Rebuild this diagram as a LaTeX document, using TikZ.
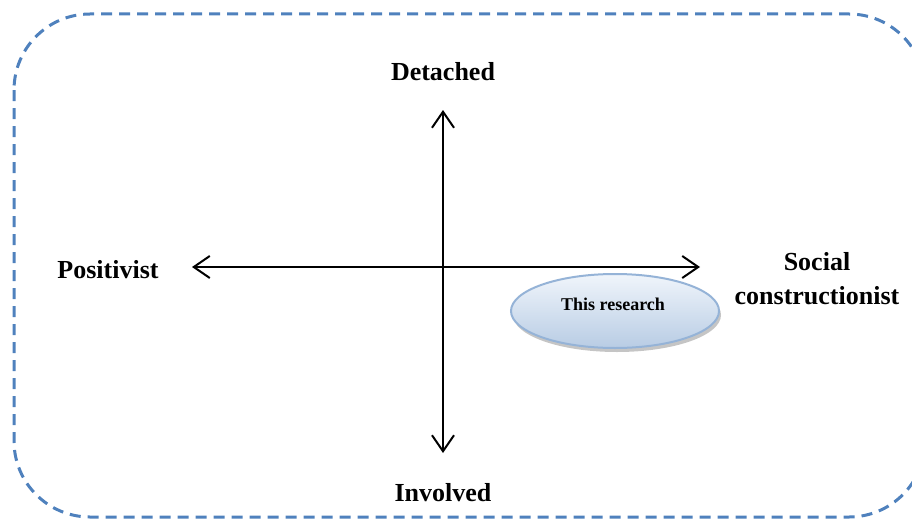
\documentclass[tikz,border=0pt]{standalone}
\usepackage{fontspec}
\setmainfont{Liberation Serif}
\usetikzlibrary{arrows.meta,shadows,shapes.geometric}

\definecolor{frameblue}{RGB}{79,129,189}
\definecolor{ovalline}{RGB}{149,179,215}
\definecolor{ovaltop}{RGB}{240,245,251}
\definecolor{ovalbottom}{RGB}{184,204,228}

\tikzset{
  barb/.tip = {Straight Barb[length = 16pt, width = 22pt, line width = 2pt]},
  frame/.style = {draw = frameblue, line width = 3pt, dash pattern = on 11pt off 7pt,
    rounded corners = 76pt},
  axis/.style = {line width = 2pt, barb-barb},
  pole/.style = {font = \fontsize{26}{34}\selectfont\bfseries, align = center},
  oval/.style = {ellipse, draw = ovalline, line width = 2pt,
    top color = ovaltop, bottom color = ovalbottom,
    minimum width = 208pt, minimum height = 74pt, inner sep = 0pt,
    drop shadow = {shadow xshift = 2pt, shadow yshift = -4pt, fill = black!45}}
}

\begin{document}
\begin{tikzpicture}[x = 1pt, y = -1pt]
  \useasboundingbox (0, 0) rectangle (912, 519);

  % dashed frame, cut at the page edge
  \begin{scope}
    \clip (0, 0) rectangle (912, 519);
    \draw[frame] (14, 14) rectangle (925, 517);
  \end{scope}

  % axes
  \coordinate (west) at (192, 267);
  \coordinate (east) at (700, 267);
  \coordinate (north) at (443, 110);
  \coordinate (south) at (443, 453);

  \draw[axis] (west) -- (east);
  \draw[axis] (south) -- (north);

  % pole labels
  \node[pole] (detached) at (443, 72) {Detached};
  \node[pole] (involved) at (443, 493) {Involved};
  \node[pole] (positivist) at (108, 270) {Positivist};
  \node[pole] (social) at (817, 279) {Social\\constructionist};

  % position of this study
  \node[oval] (research) at (615, 311) {};
  \node[font = \fontsize{18}{20}\selectfont\bfseries] (researchtext) at (613, 304)
  {This research};
\end{tikzpicture}
\end{document}
